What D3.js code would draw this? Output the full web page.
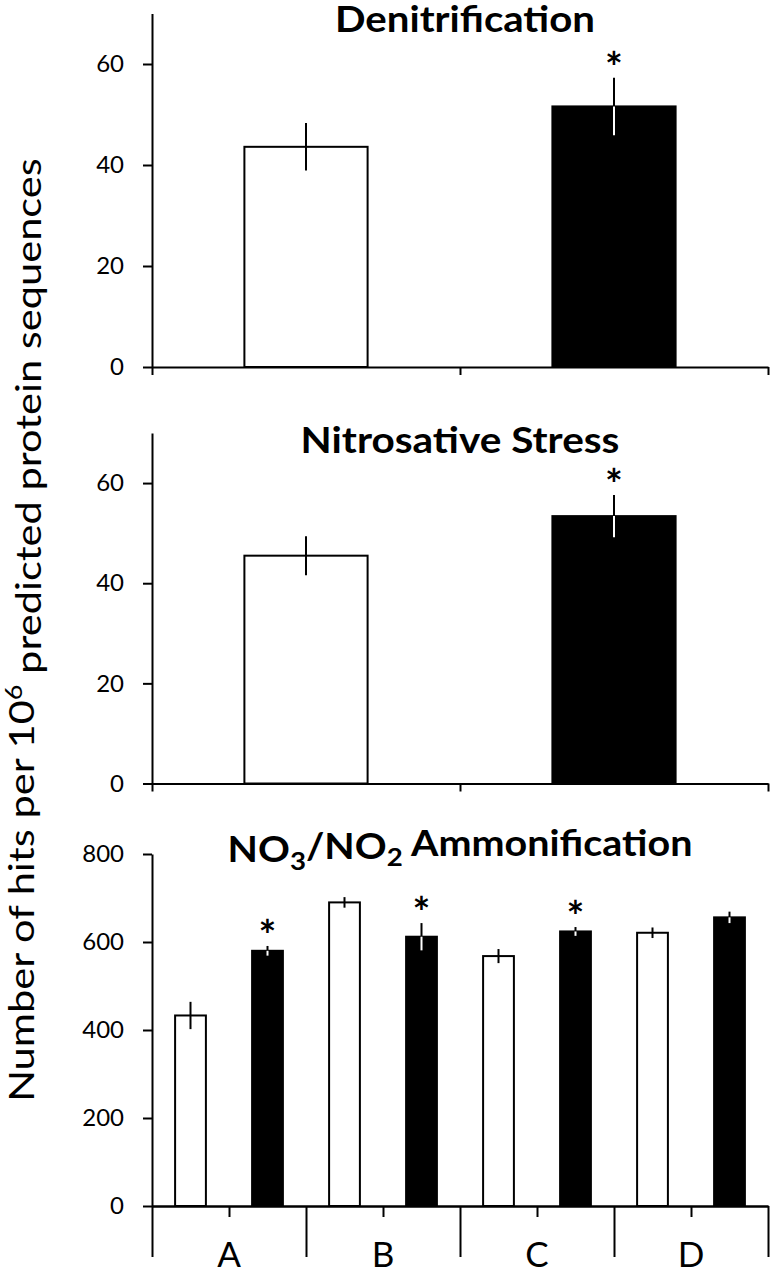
<!DOCTYPE html>
<html><head><meta charset="utf-8">
<script src="https://cdn.jsdelivr.net/npm/d3@7"></script>
<style>body{margin:0;background:#fff} svg{display:block}</style>
</head><body>
<svg id="chart" width="770" height="1275"></svg>
<script>
// ---------- data ----------
const panelTitles = ["Denitrification", "Nitrosative Stress", "NO3/NO2 Ammonification"];
const seriesNames = ["white", "black"];
const denitValues = [43.6, 51.6];
const denitErrors = [4.7, 5.7];
const denitSig = [false, true];
const nitroValues = [45.5, 53.4];
const nitroErrors = [3.9, 4.2];
const nitroSig = [false, true];
const groups = ["A", "B", "C", "D"];
const ammonWhite = [433, 690, 568, 621];
const ammonWhiteErr = [31, 12, 16, 12];
const ammonBlack = [580, 612, 624, 656];
const ammonBlackErr = [11, 31, 10, 13];
const ammonSig = [true, true, true, false];
const smallTicks = [0, 20, 40, 60];
const ammonTicks = [0, 200, 400, 600, 800];
const yLabelPre = "Number of hits per 10";
const yLabelSup = "6";
const yLabelPost = " predicted protein sequences";

// ---------- layout ----------
const svg = d3.select("#chart");
const FONT = "Lato, 'Open Sans', sans-serif";
const X0 = 152, X1 = 768;
const panels = [
  {top: 13.5, bottom: 367, max: 70, ticks: smallTicks, titleY: 31.5, titleW: 260, titleX: 465},
  {top: 433, bottom: 783.5, max: 70, ticks: smallTicks, titleY: 453, titleW: 319, titleX: 460},
  {top: 854, bottom: 1206, max: 800, ticks: ammonTicks, titleY: 862, titleW: 465, titleX: 460}
];

// stretch a text horizontally (in its own frame) to a target width
function fitScale(sel, base, target) {
  const w = sel.node().getBBox().width;
  sel.attr("transform", `${base} scale(${target / w},1)`);
}

function yAxis(p) {
  const y = d3.scaleLinear().domain([0, p.max]).range([p.bottom, p.top]);
  const g = svg.append("g").attr("transform", `translate(${X0},0)`)
    .call(d3.axisLeft(y).tickValues(p.ticks).tickSize(9).tickSizeOuter(0).tickPadding(19));
  g.selectAll("path,line").attr("stroke", "#000").attr("stroke-width", 2);
  g.selectAll("text").attr("font-family", FONT).attr("font-size", 24).attr("fill", "#000");
  return y;
}

function title(p, text) {
  const t = svg.append("text").attr("x", 0).attr("y", 0)
    .attr("text-anchor", "middle").attr("font-family", FONT).attr("font-weight", "bold")
    .attr("font-size", 36).attr("fill", "#000");
  const m = text.match(/^NO(\d)\/NO(\d)(.*)$/);
  if (m) {
    t.append("tspan").text("NO");
    t.append("tspan").attr("font-size", "0.7em").attr("dy", "0.3em").text(m[1]);
    t.append("tspan").attr("dy", "-0.3em").text("/NO");
    t.append("tspan").attr("font-size", "0.7em").attr("dy", "0.3em").text(m[2]);
    t.append("tspan").attr("dy", "-0.3em").text(m[3]);
  } else {
    t.text(text);
  }
  fitScale(t, `translate(${p.titleX},${p.titleY})`, p.titleW);
}

function bar(x, w, y, v, e, color, sig) {
  svg.append("rect").attr("x", x).attr("y", y(v)).attr("width", w).attr("height", y(0) - y(v))
    .attr("fill", color === "black" ? "#000" : "#fff").attr("stroke", "#000").attr("stroke-width", 2);
  const cx = x + w / 2;
  svg.append("line").attr("x1", cx).attr("x2", cx).attr("y1", y(v + e)).attr("y2", y(v))
    .attr("stroke", "#000").attr("stroke-width", 2);
  svg.append("line").attr("x1", cx).attr("x2", cx).attr("y1", y(v)).attr("y2", y(v - e))
    .attr("stroke", color === "black" ? "#fff" : "#000").attr("stroke-width", 2);
  if (sig) {
    svg.append("text").attr("x", cx).attr("y", y(v + e) + 5).attr("text-anchor", "middle")
      .attr("font-family", FONT).attr("font-weight", "bold").attr("font-size", 42).text("*");
  }
}

// ---------- two-bar panels ----------
[[denitValues, denitErrors, denitSig], [nitroValues, nitroErrors, nitroSig]].forEach((d, i) => {
  const p = panels[i];
  const y = yAxis(p);
  const xb = d3.scaleBand().domain(seriesNames).range([X0, X1]).paddingInner(0.6).paddingOuter(0.3);
  seriesNames.forEach((s, j) => bar(xb(s), xb.bandwidth(), y, d[0][j], d[1][j], s, d[2][j]));
  const xl = d3.scaleLinear().domain([0, seriesNames.length]).range([X0, X1]);
  const gx = svg.append("g").attr("transform", `translate(0,${p.bottom})`)
    .call(d3.axisBottom(xl).tickValues(d3.range(seriesNames.length + 1)).tickFormat("").tickSize(8).tickSizeOuter(0));
  gx.selectAll("path,line").attr("stroke", "#000").attr("stroke-width", 2);
  title(p, panelTitles[i]);
});

// ---------- grouped panel ----------
{
  const p = panels[2];
  const y = yAxis(p);
  const xo = d3.scaleBand().domain(groups).range([X0, X1]);
  const xi = d3.scaleBand().domain(seriesNames).range([0, xo.bandwidth()]).paddingInner(0.6).paddingOuter(0.3);
  groups.forEach((g, k) => {
    bar(xo(g) + xi("white"), xi.bandwidth(), y, ammonWhite[k], ammonWhiteErr[k], "white", false);
    bar(xo(g) + xi("black"), xi.bandwidth(), y, ammonBlack[k], ammonBlackErr[k], "black", ammonSig[k]);
  });
  const n = groups.length * seriesNames.length;
  const xl = d3.scaleLinear().domain([0, n]).range([X0, X1]);
  const gs = svg.append("g").attr("transform", `translate(0,${p.bottom})`)
    .call(d3.axisBottom(xl).tickValues(d3.range(1, n, 2)).tickFormat("").tickSize(11).tickSizeOuter(0));
  gs.selectAll("path,line").attr("stroke", "#000").attr("stroke-width", 2);
  const gl = svg.append("g").attr("transform", `translate(0,${p.bottom})`)
    .call(d3.axisBottom(xl).tickValues(d3.range(0, n + 1, 2)).tickFormat("").tickSize(51).tickSizeOuter(0));
  gl.selectAll("path,line").attr("stroke", "#000").attr("stroke-width", 2);
  svg.append("g").selectAll("text").data(groups).join("text")
    .attr("x", g => xo(g) + xo.bandwidth() / 2).attr("y", 1267).attr("text-anchor", "middle")
    .attr("font-family", FONT).attr("font-size", 35).attr("fill", "#000").text(g => g);
  title(p, panelTitles[2]);
}

// ---------- y label ----------
{
  const t = svg.append("text").attr("x", 0).attr("y", 0)
    .attr("text-anchor", "middle").attr("font-family", FONT).attr("font-size", 34).attr("fill", "#000");
  t.append("tspan").text(yLabelPre);
  t.append("tspan").attr("font-size", "0.65em").attr("dy", "-0.55em").text(yLabelSup);
  t.append("tspan").attr("dy", "0.55em").text(yLabelPost);
  fitScale(t, "translate(34,630) rotate(-90)", 944);
}
</script>
</body></html>
